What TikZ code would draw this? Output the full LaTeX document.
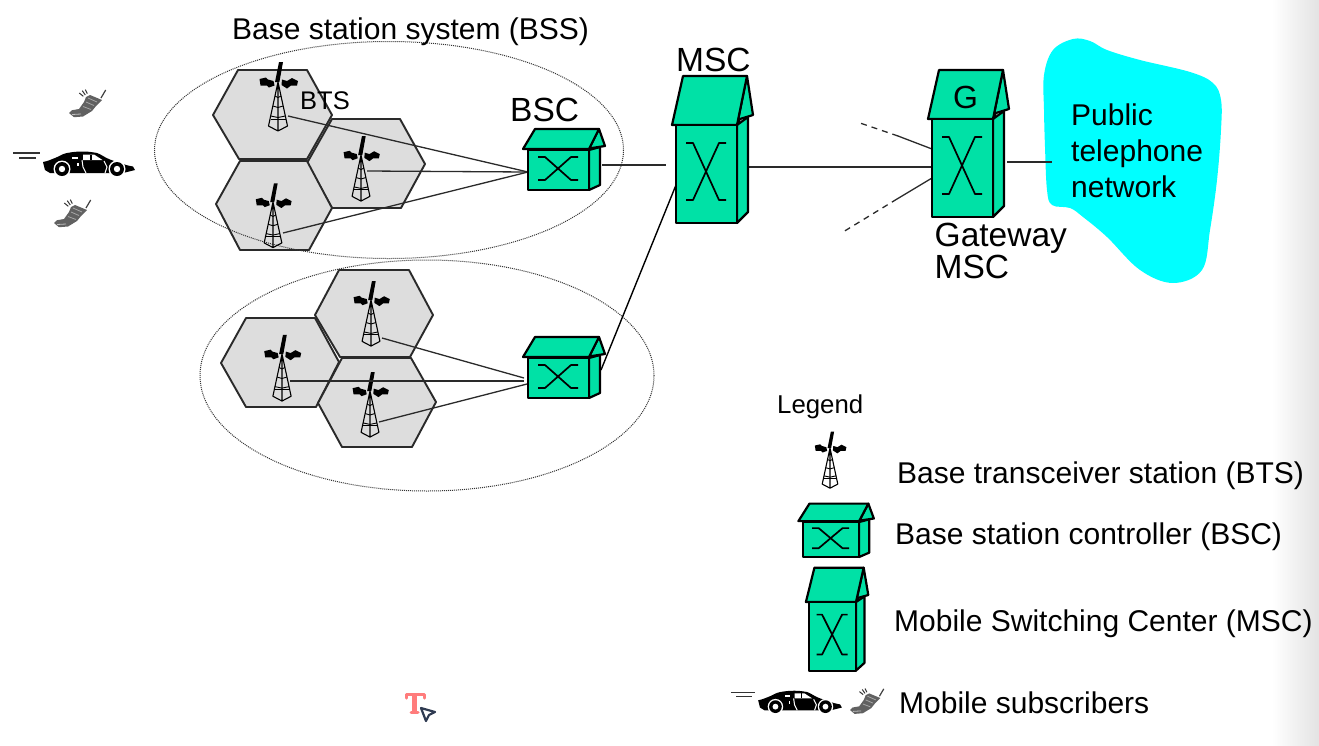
\documentclass[tikz,border=0pt]{standalone}
\usepackage{fontspec}
\setmainfont{Liberation Sans}
\definecolor{switchgreen}{HTML}{00E1A6}
\definecolor{cellgray}{HTML}{DDDDDD}
\definecolor{cloudcyan}{HTML}{00FFFF}
\definecolor{linkgray}{HTML}{2A2A2A}
\definecolor{cursorred}{HTML}{FF7C7C}
\definecolor{cursorblue}{HTML}{2F3B52}
\newcommand{\sz}[1]{\fontsize{#1}{#1}\selectfont}
\tikzset{
  cell/.style={draw=linkgray,fill=cellgray,line width=1.9pt,line join=round},
  link/.style={draw=linkgray,line width=1.3pt},
  zone/.style={draw=black!80,densely dotted,line width=1pt},
  housebody/.style={draw=black,fill=switchgreen,line width=2.2pt,line join=round},
  label/.style={inner sep=0pt,anchor=base west,text=black},
  towerpic/.pic={
    \fill[black] (1,-20)--(5,-20)--(1.4,0)--(-3,0)--cycle;
    \fill[black] (-18.5,-3)--(-12,-4.5)--(-10,-2.5)--(-4.5,-1)--(-3.5,3.5)--(-9,5.5)--(-11,3.5)--(-17.5,3.5)--cycle;
    \fill[black] (4,-2.5)--(9,-1)--(14,-4)--(20,-1)--(19,3.5)--(13,3.5)--(9,6.5)--(3.5,3)--cycle;
    \draw[black,line width=1.1pt,line join=round]
      (0,0)--(-9.5,44)--(0,49)--(9.5,44)--cycle (0,0)--(0,49);
    \foreach \yy in {14,24,34}{
      \draw[black,line width=.9pt] ({-\yy*9.5/44},\yy)--(0,\yy+1.5)--({\yy*9.5/44},\yy);
    }
    \draw[black,line width=.9pt] (-7.5,37)--(7.5,37);
  },
  bscpic/.pic={
    \draw[housebody] (61,0)--(72,-3)--(72,35)--(61,40)--cycle;
    \draw[housebody] (61,-1)--(71,-21)--(77,-4)--(64,-2)--cycle;
    \draw[housebody] (-5,-1)--(7,-21)--(71,-21)--(61,-1)--cycle;
    \draw[housebody] (0,0) rectangle (61,40);
    \draw[black,line width=1.7pt,line join=round]
      (10,7)--(17,7)--(43,30)--(50,30)
      (50,7)--(43,7)--(17,30)--(10,30);
  },
  mscpic/.pic={
    \draw[housebody] (61,0)--(72,-8)--(72,87)--(61,98)--cycle;
    \draw[housebody] (61,0)--(71,-49)--(77,-10)--(64,-6)--cycle;
    \draw[housebody] (-4,0)--(7,-49)--(71,-49)--(61,0)--cycle;
    \draw[housebody] (0,0) rectangle (61,98);
    \draw[black,line width=1.7pt,line join=round]
      (10,18)--(17,18)--(43,75)--(50,75)
      (50,18)--(43,18)--(17,75)--(10,75);
  },
  carpic/.pic={
    % speed strokes
    \draw[black!80,line width=1.1pt] (-76,-12)--(-49,-12) (-70,-7)--(-53,-7);
    % body
    \fill[black] (-46,-3) to[out=10,in=200] (-34,-7)
      to[out=20,in=190] (-22,-12) to[out=10,in=180] (-6,-13.5)
      to[out=0,in=170] (8,-12) to[out=-20,in=160] (21,-5.5)
      to[out=-20,in=170] (44,1.5) -- (46,5) -- (34,8) -- (-39,8) -- (-44,5) -- cycle;
    % windows and door seam
    \fill[white] (-6,-10.5)--(5,-10.5)--(13.5,-5)--(-6,-5)--cycle;
    \fill[white] (-17,-8.5)--(-11,-8.5)--(-11,-6.5)--(-17,-6.5)--cycle;
    \fill[white] (-12,-2)--(-10.5,-2)--(-10.5,1)--(-12,1)--cycle;
    \fill[black] (1,-10.5)--(2.5,-10.5)--(2.5,-5)--(1,-5)--cycle;
    \draw[white,line width=1pt] (-7,-5)--(-6,2)--(-3,8) (15,-4)--(18,2)--(16,8);
    % wheels
    \foreach \wx in {-27,28}{
      \fill[white] (\wx,4) circle (8.5);
      \fill[black] (\wx,4) circle (7);
      \fill[white] (\wx,4) circle (3.2);
    }
  },
  phonepic/.pic={
    \fill[black!62] (0,0)--(2.7,-2.7)--(10,-4)--(15,-11)--(17,-16)--(21,-18)--(33,-13)
      --(27,-7)--(23,-2)--(14,3.5)--(5,4.2)--cycle;
    \draw[black!35,line width=.8pt] (19,-15)--(28,-11) (17,-11)--(25,-7.5) (14,-6.5)--(22,-3.5);
    \draw[black!25,line width=.8pt] (3,1.5)--(12,1);
    \draw[black!75,line width=1.2pt] (32,-15)--(36.7,-23);
    \draw[black!80,line width=1pt] (10.3,-20)--(14.3,-16.7) (13.3,-22.3)--(16.3,-18) (16.3,-23.3)--(18.3,-19.3);
  }
}
\begin{document}
\begin{tikzpicture}[x=1pt,y=-1pt]
\useasboundingbox (0,0) rectangle (1319,745);
\fill[white] (0,0) rectangle (1319,745);
\shade[left color=white,right color=black!11] (1272,0) rectangle (1319,745);

% cell groups of the two base station systems
\draw[cell] (238,70)--(307,70)--(332,115)--(307,159)--(239,159)--(213,115)--cycle;
\draw[cell] (332,119)--(400,119)--(425,164)--(401,208)--(332,208)--(307,163)--cycle;
\draw[cell] (240,161)--(307,161)--(332,208)--(309,250)--(240,250)--(216,204)--cycle;
\draw[cell] (339,270)--(409,270)--(433,315)--(410,357)--(340,357)--(315,315)--cycle;
\draw[cell] (246,318)--(315,318)--(339,362)--(316,407)--(246,407)--(221,363)--cycle;
\draw[cell] (342,358)--(411,358)--(436,402)--(412,447)--(342,447)--(318,403)--cycle;

\draw[zone] (389,150) ellipse [x radius=234.5,y radius=108.5];
\draw[zone] (427,375.5) ellipse [x radius=227,y radius=115.5];

% antenna towers
\pic at (278,82) {towerpic};
\pic[scale=.94] at (361,155) {towerpic};
\pic[scale=.93] at (273,202) {towerpic};
\pic[scale=.94] at (371,300) {towerpic};
\pic[scale=.96] at (282,354) {towerpic};
\pic[scale=.94] at (370,391) {towerpic};
\pic[scale=.82] at (830,448) {towerpic};

% attachment points of the links
\coordinate (btsA) at (288,116);
\coordinate (btsB) at (367,171);
\coordinate (btsC) at (283,233);
\coordinate (btsD) at (382,338);
\coordinate (btsE) at (290,381);
\coordinate (btsF) at (379,422);
\coordinate (bscUin) at (528,172);
\coordinate (bscUout) at (602,165);
\coordinate (bscLinA) at (524,378);
\coordinate (bscLinB) at (524,381);
\coordinate (bscLinC) at (527,384);
\coordinate (bscLout) at (601,370);
\coordinate (mscInA) at (666,165);
\coordinate (mscInB) at (676,185);
\coordinate (mscOut) at (742,167);
\coordinate (gwIn) at (932,167);
\coordinate (gwUp) at (932,149);
\coordinate (gwUpMid) at (898,136);
\coordinate (gwUpEnd) at (860,123);
\coordinate (gwLow) at (932,178);
\coordinate (gwLowMid) at (897,199);
\coordinate (gwLowEnd) at (843,232);
\coordinate (gwOut) at (1007,162);
\coordinate (pstnIn) at (1052,162);

% public network cloud
\fill[cloudcyan] plot[smooth cycle,tension=.6] coordinates {
  (1073,39) (1053,50) (1044,75) (1044,110) (1045,147) (1047,190) (1052,205) (1070,208) (1083,217) (1107,237)
  (1140,270) (1173,283) (1202,270) (1210,230) (1217,180) (1221,130) (1221,100) (1213,83) (1190,72)
  (1140,60) (1107,50) (1090,41)};

% links
\draw[link] (btsA)--(bscUin);
\draw[link] (btsB)--(bscUin);
\draw[link] (btsC)--(bscUin);
\draw[link] (btsD)--(bscLinA);
\draw[link] (btsE)--(bscLinB);
\draw[link] (btsF)--(bscLinC);
\draw[link,line width=1.1pt] (bscUout)--(mscInA);
\draw[link,black,line width=1.4pt] (bscLout)--(mscInB);
\draw[link,line width=1.1pt] (mscOut)--(gwIn);
\draw[link] (gwUp)--(gwUpMid);
\draw[link,dashed,dash pattern=on 6pt off 5pt] (gwUpMid)--(gwUpEnd);
\draw[link] (gwLow)--(gwLowMid);
\draw[link,dashed,dash pattern=on 6pt off 5pt] (gwLowMid)--(gwLowEnd);
\draw[link,line width=1.1pt] (gwOut)--(pstnIn);

% controllers and switching centers
\pic at (528,150) {bscpic};
\pic at (528,358) {bscpic};
\pic[xscale=.92,yscale=.875] at (803,522) {bscpic};
\pic at (676,125) {mscpic};
\pic at (932,119) {mscpic};
\pic[xscale=.77,yscale=.70] at (809,602) {mscpic};

% subscribers
\pic at (89,165) {carpic};
\pic[scale=.91] at (800,703) {carpic};
\pic at (69,113) {phonepic};
\pic at (54,223) {phonepic};
\pic[scale=.92] at (850,710) {phonepic};

% labels
\node[label] (bss) at (232,39) {\sz{30}Base station system (BSS)};
\node[label] (btsl) at (300,109) {\sz{25.5}BTS};
\node[label] (bscl) at (510,121) {\sz{33.5}BSC};
\node[label] (mscl) at (676,71) {\sz{33.5}MSC};
\node[label] (gl) at (953,108) {\sz{32}G};
\node[label] (pstnA) at (1071,125) {\sz{30}Public};
\node[label] (pstnB) at (1071,161) {\sz{30}telephone};
\node[label] (pstnC) at (1071,197) {\sz{30}network};
\node[label] (gwA) at (934.5,246) {\sz{33.5}Gateway};
\node[label] (gwB) at (934.5,278) {\sz{33.5}MSC};
\node[label] (lgd) at (777,413) {\sz{25.8}Legend};
\node[label] (lgdA) at (897,483) {\sz{30}Base transceiver station (BTS)};
\node[label] (lgdB) at (895,544) {\sz{30}Base station controller (BSC)};
\node[label] (lgdC) at (894,631) {\sz{30}Mobile Switching Center (MSC)};
\node[label] (lgdD) at (899,713) {\sz{30}Mobile subscribers};

% text tool cursor
\draw[cursorred,line width=3pt,line cap=round,line join=round]
  (406,698)--(406,694.5)--(424,694.5)--(424,698) (411,712)--(418,712);
\draw[cursorred,line width=4.5pt] (414.5,694)--(414.5,712);
\draw[cursorblue,fill=white,line width=2.2pt,line join=round]
  (421,708)--(435,712)--(429,715)--(426,721)--cycle;
\end{tikzpicture}
\end{document}
